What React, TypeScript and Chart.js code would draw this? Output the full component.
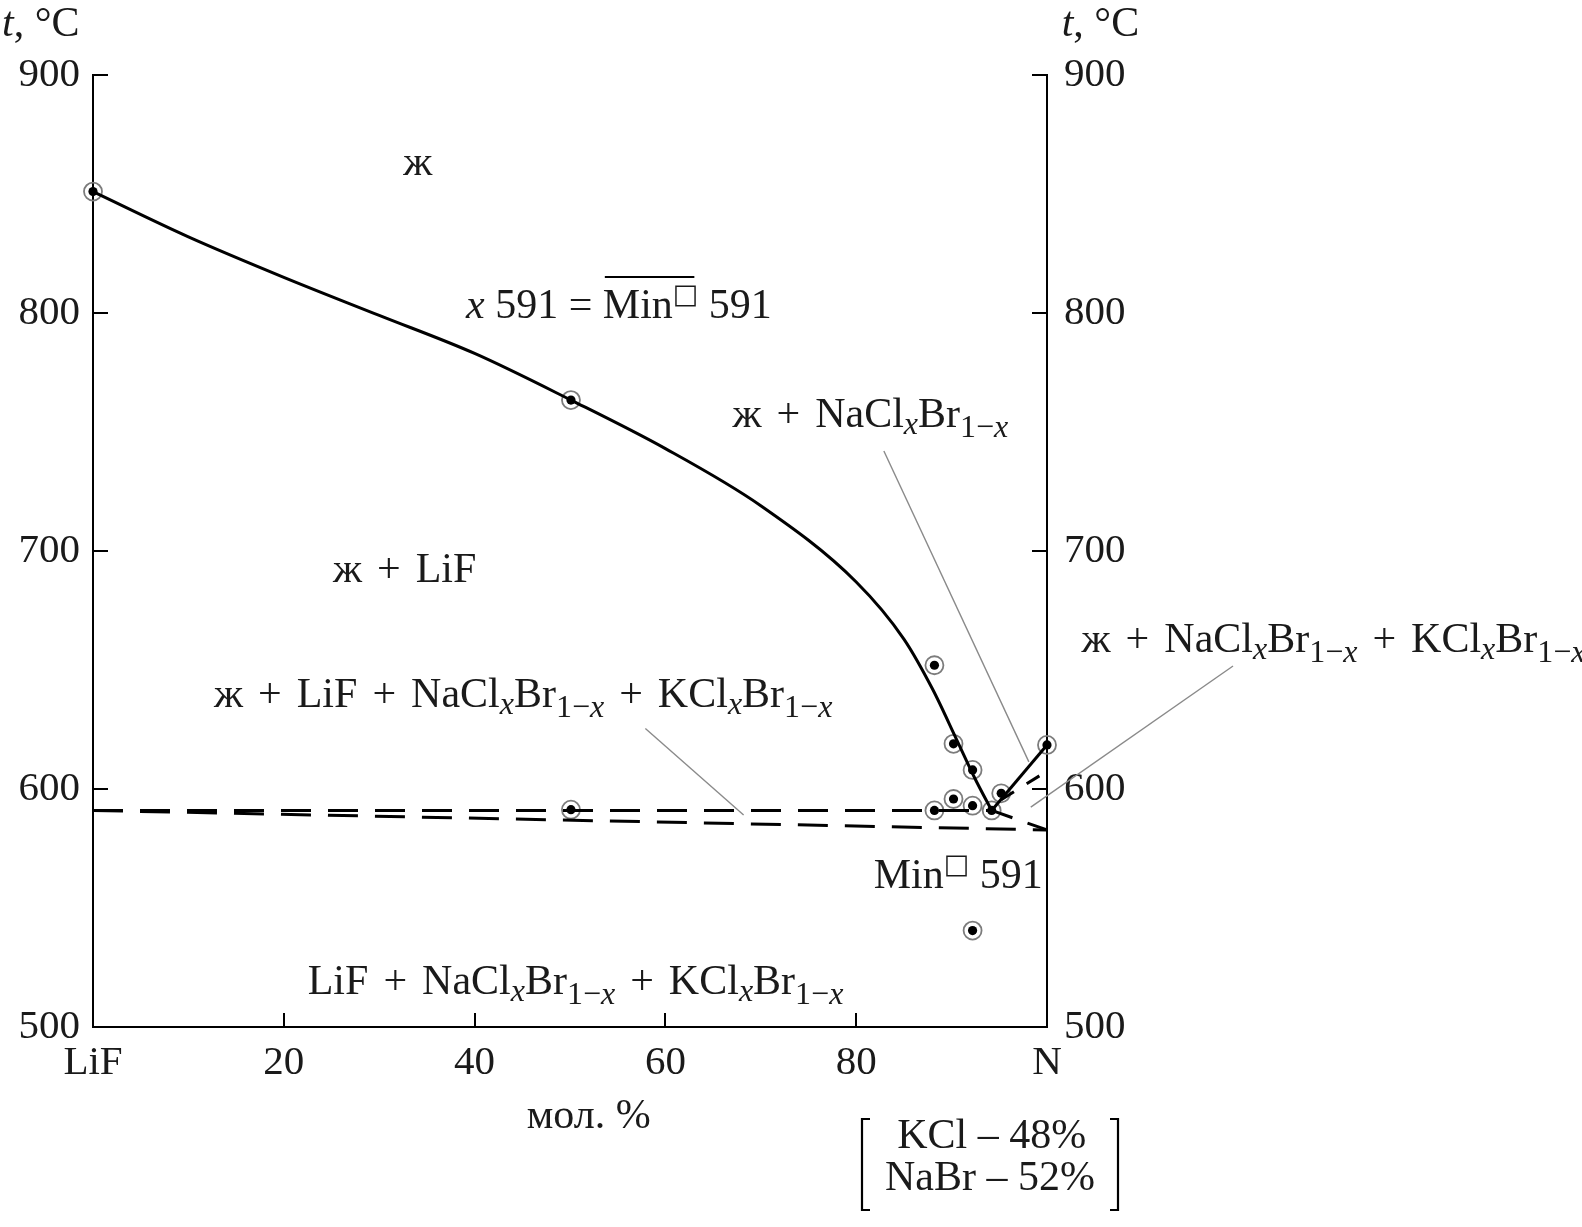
import { useEffect, useRef } from 'react';
import { Chart, registerables } from 'chart.js';

Chart.register(...registerables);

const SERIF = '"Liberation Serif", "Times New Roman", serif';

// Liquidus of LiF (boundary between ж and ж + LiF)
const liquidusX = [0, 10, 20, 30, 40, 50.1, 60, 70, 80, 85, 88, 90.5, 92.5, 94.2];
const liquidusT = [851, 832, 815, 799, 783, 763.4, 743, 719, 687, 663, 642, 621, 604, 591];

// Right branch from the minimum to the N side
const branchX = [94.2, 100];
const branchT = [591, 618.5];

// Dashed solidus lines
const upperDashX = [0, 94.2];
const upperDashT = [591, 591];
const lowerDashX = [0, 100];
const lowerDashT = [591, 582.8];
const minDashX = [94.2, 100];
const minDashT = [591, 582.8];
const nearMinDashX = [95.2, 100];
const nearMinDashT = [595.5, 607.5];

// Experimental points
const pointX = [0, 50.1, 88.2, 90.2, 92.2, 95.2, 100, 88.2, 90.2, 92.2, 94.2, 50.1, 92.2];
const pointT = [851, 763.4, 652, 619, 608, 598.2, 618.5, 591, 595.8, 593, 591, 591.3, 540.5];

// Leader lines of the labels
const leaderAX = [82.9, 98.1];
const leaderAT = [742, 611.4];
const leaderBX = [119.5, 98.3];
const leaderBT = [651.7, 592.4];
const leaderCX = [57.9, 68.2];
const leaderCT = [625.4, 589.1];

// Axis ticks
const xTickValues = [0, 20, 40, 60, 80, 100];
const xTickLabels = ['LiF', '20', '40', '60', '80', 'N'];
const yTickValues = [500, 600, 700, 800, 900];
const yTickLabels = ['500', '600', '700', '800', '900'];

type Seg = { t: string; it?: boolean; sub?: boolean; sup?: boolean; dy?: number; fam?: string; size?: number; gap?: number };

const PLUS: Seg[] = [{ t: '', gap: 15 }, { t: '+' }, { t: '', gap: 15 }];
const NaClBr: Seg[] = [
  { t: 'NaCl' },
  { t: 'x', it: true, sub: true, dy: 7 },
  { t: 'Br' },
  { t: '1\u2212', sub: true, dy: 10 },
  { t: 'x', it: true, sub: true, dy: 10 },
];
const KClBr: Seg[] = [
  { t: 'KCl' },
  { t: 'x', it: true, sub: true, dy: 7 },
  { t: 'Br' },
  { t: '1\u2212', sub: true, dy: 10 },
  { t: 'x', it: true, sub: true, dy: 10 },
];
const ZH: Seg = { t: 'ж' };
const LIF: Seg = { t: 'LiF' };
const BOX: Seg = { t: '\u25A1', sup: true, fam: '"DejaVu Sans"', size: 27 };

const LABELS: { segs: Seg[]; x: number; y: number; align?: 'left' | 'center' }[] = [
  { segs: [ZH], x: 417.7, y: 174.5, align: 'center' },
  { segs: [ZH, ...PLUS, LIF], x: 333, y: 582 },
  { segs: [ZH, ...PLUS, ...NaClBr], x: 732.5, y: 427 },
  { segs: [ZH, ...PLUS, ...NaClBr, ...PLUS, ...KClBr], x: 1081.6, y: 652 },
  { segs: [ZH, ...PLUS, LIF, ...PLUS, ...NaClBr, ...PLUS, ...KClBr], x: 214, y: 706.7 },
  { segs: [LIF, ...PLUS, ...NaClBr, ...PLUS, ...KClBr], x: 307.7, y: 994 },
  { segs: [{ t: 'Min' }, BOX, { t: ' 591' }], x: 873.7, y: 888 },
  { segs: [{ t: 'мол. %' }], x: 526.7, y: 1128 },
  { segs: [{ t: 't', it: true }, { t: ', °C' }], x: 2, y: 36 },
  { segs: [{ t: 't', it: true }, { t: ', °C' }], x: 1061.7, y: 36 },
  { segs: [{ t: 'KCl \u2013 48%' }], x: 991.7, y: 1148, align: 'center' },
  { segs: [{ t: 'NaBr \u2013 52%' }], x: 990, y: 1190, align: 'center' },
];

const MAIN = 42;

function segFont(s: Seg) {
  const size = s.size ?? (s.sub || s.sup ? 32 : MAIN);
  return `${s.it ? 'italic ' : ''}${size}px ${s.fam ?? SERIF}`;
}

function segWidth(ctx: CanvasRenderingContext2D, s: Seg) {
  if (s.gap) return s.gap;
  ctx.font = segFont(s);
  return ctx.measureText(s.t).width;
}

function drawRich(ctx: CanvasRenderingContext2D, segs: Seg[], x: number, y: number, align: 'left' | 'center' = 'left') {
  let w = 0;
  for (const s of segs) w += segWidth(ctx, s);
  const start = align === 'center' ? x - w / 2 : x;
  let cx = start;
  ctx.textAlign = 'left';
  ctx.textBaseline = 'alphabetic';
  for (const s of segs) {
    if (!s.gap) {
      ctx.font = segFont(s);
      const dy = s.sub ? s.dy ?? 8 : s.sup ? -15 : 0;
      ctx.fillText(s.t, cx, y + dy);
    }
    cx += segWidth(ctx, s);
  }
  return { start, width: w };
}

const toXY = (xs: number[], ys: number[]) => xs.map((x, i) => ({ x, y: ys[i] }));

const decorPlugin = {
  id: 'decor',
  afterDatasetsDraw(chart: any) {
    const { ctx, chartArea: a, scales } = chart;
    const xs = scales.x;
    const ys = scales.y;
    ctx.save();
    ctx.strokeStyle = '#000';
    ctx.lineWidth = 2;
    ctx.beginPath();
    for (const v of yTickValues) {
      const py = Math.round(ys.getPixelForValue(v));
      ctx.moveTo(a.left, py);
      ctx.lineTo(a.left + 15, py);
      ctx.moveTo(a.right, py);
      ctx.lineTo(a.right - 15, py);
    }
    for (const v of xTickValues.slice(1, -1)) {
      const px = Math.round(xs.getPixelForValue(v));
      ctx.moveTo(px, a.bottom);
      ctx.lineTo(px, a.bottom - 14);
    }
    ctx.stroke();

    ctx.fillStyle = '#1a1a1a';
    for (const l of LABELS) drawRich(ctx, l.segs, l.x, l.y, l.align ?? 'left');

    // "x 591 = Min□ 591" with an overline over Min□
    const head: Seg[] = [{ t: 'x', it: true }, { t: ' 591 = ' }];
    const r = drawRich(ctx, [...head, { t: 'Min' }, BOX, { t: ' 591' }], 466, 318);
    let pre = 0;
    for (const s of head) pre += segWidth(ctx, s);
    const overW = segWidth(ctx, { t: 'Min' }) + segWidth(ctx, BOX) - 4;
    ctx.lineWidth = 2;
    ctx.beginPath();
    ctx.moveTo(r.start + pre + 2, 277);
    ctx.lineTo(r.start + pre + overW, 277);
    ctx.stroke();

    // brackets around the composition of N
    ctx.lineWidth = 2.2;
    ctx.beginPath();
    ctx.moveTo(870, 1119);
    ctx.lineTo(862, 1119);
    ctx.lineTo(862, 1210);
    ctx.lineTo(870, 1210);
    ctx.moveTo(1110, 1119);
    ctx.lineTo(1118, 1119);
    ctx.lineTo(1118, 1210);
    ctx.lineTo(1110, 1210);
    ctx.stroke();
    ctx.restore();
  },
};

export default function App() {
  const ref = useRef<HTMLCanvasElement | null>(null);
  useEffect(() => {
    if (!ref.current) return;
    const gray = '#8a8a8a';
    const line = (xs: number[], ys: number[], extra: any = {}) => ({
      data: toXY(xs, ys),
      showLine: true,
      borderColor: '#000',
      borderWidth: 3,
      pointRadius: 0,
      fill: false,
      clip: false,
      ...extra,
    });
    const tickFont = { family: SERIF, size: 41 };
    const chart = new Chart(ref.current, {
      type: 'scatter',
      data: {
        datasets: [
          line(leaderAX, leaderAT, { borderColor: gray, borderWidth: 1.4 }),
          line(leaderBX, leaderBT, { borderColor: gray, borderWidth: 1.4 }),
          line(leaderCX, leaderCT, { borderColor: gray, borderWidth: 1.4 }),
          line(upperDashX, upperDashT, { borderDash: [30, 17], borderCapStyle: 'butt' }),
          line(lowerDashX, lowerDashT, { borderDash: [30, 17], borderCapStyle: 'butt' }),
          line(minDashX, minDashT, { borderDash: [22, 16] }),
          line(nearMinDashX, nearMinDashT, { borderDash: [15, 15] }),
          line(liquidusX, liquidusT, { cubicInterpolationMode: 'monotone' }),
          line(branchX, branchT),
          {
            data: toXY(pointX, pointT),
            showLine: false,
            pointRadius: 9,
            pointBorderWidth: 1.8,
            pointBorderColor: '#7c7c7c',
            pointBackgroundColor: 'rgba(255,255,255,0)',
            clip: false,
          },
          {
            data: toXY(pointX, pointT),
            showLine: false,
            pointRadius: 4.6,
            pointBorderWidth: 0,
            pointBackgroundColor: '#000',
            clip: false,
          },
        ],
      },
      options: {
        responsive: false,
        animation: false,
        events: [],
        devicePixelRatio: 1,
        layout: { padding: { top: 75, left: 0, right: 0, bottom: 0 } },
        plugins: { legend: { display: false }, tooltip: { enabled: false }, title: { display: false } },
        scales: {
          x: {
            type: 'linear',
            min: 0,
            max: 100,
            position: 'bottom',
            afterBuildTicks: (s: any) => {
              s.ticks = xTickValues.map((v) => ({ value: v }));
            },
            ticks: {
              callback: (v: any) => xTickLabels[xTickValues.indexOf(Number(v))] ?? '',
              font: tickFont,
              color: '#1a1a1a',
              padding: 12,
              maxRotation: 0,
              autoSkip: false,
            },
            grid: { display: false, drawTicks: false },
            border: { display: true, color: '#000', width: 2 },
            afterFit: (s: any) => {
              s.height = 200;
            },
          },
          y: {
            type: 'linear',
            min: 500,
            max: 900,
            position: 'left',
            afterBuildTicks: (s: any) => {
              s.ticks = yTickValues.map((v) => ({ value: v }));
            },
            ticks: {
              callback: (v: any) => yTickLabels[yTickValues.indexOf(Number(v))] ?? '',
              font: tickFont,
              color: '#1a1a1a',
              padding: 13,
            },
            grid: { display: false, drawTicks: false },
            border: { display: true, color: '#000', width: 2 },
            afterFit: (s: any) => {
              s.width = 93;
            },
          },
          y2: {
            type: 'linear',
            min: 500,
            max: 900,
            position: 'right',
            afterBuildTicks: (s: any) => {
              s.ticks = yTickValues.map((v) => ({ value: v }));
            },
            ticks: {
              callback: (v: any) => yTickLabels[yTickValues.indexOf(Number(v))] ?? '',
              font: tickFont,
              color: '#1a1a1a',
              padding: 17,
            },
            grid: { display: false, drawTicks: false },
            border: { display: true, color: '#000', width: 2 },
            afterFit: (s: any) => {
              s.width = 535;
            },
          },
        },
      },
      plugins: [decorPlugin],
    } as any);
    return () => chart.destroy();
  }, []);
  return (
    <div style={{ position: 'absolute', left: 0, top: 0, width: 1582, height: 1227, background: '#fff' }}>
      <canvas ref={ref} width={1582} height={1227} style={{ display: 'block', width: 1582, height: 1227 }} />
    </div>
  );
}
